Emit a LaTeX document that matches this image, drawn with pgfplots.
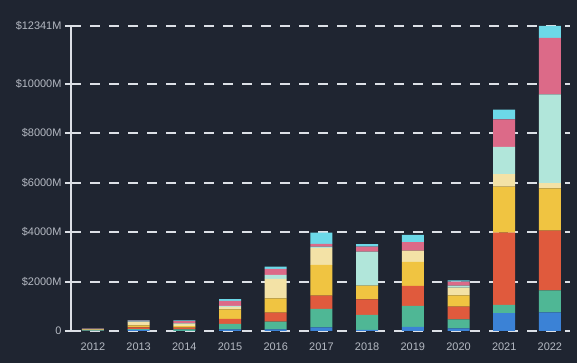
\documentclass[border=0pt]{standalone}
\usepackage{pgfplots}
\pgfplotsset{compat=1.18}
\usepackage{pgfplotstable}
\usepackage{fontspec}
\setmainfont{Liberation Sans}
\definecolor{bg}{HTML}{1F2531}
\definecolor{txt}{HTML}{B4B9C2}
\definecolor{gridc}{HTML}{DCE0E6}
\definecolor{cblue}{HTML}{3B82D6}
\definecolor{cgreen}{HTML}{4FB795}
\definecolor{cred}{HTML}{E05A3D}
\definecolor{cyellow}{HTML}{F0C441}
\definecolor{clyellow}{HTML}{F3E2A6}
\definecolor{cmint}{HTML}{B1E6DA}
\definecolor{cpink}{HTML}{DC6A88}
\definecolor{ccyan}{HTML}{6CD9E8}
\pgfplotstableread{
x blue green red yellow ly mint pink cyan
0 5 20 10 20 20 10 10 5
1 50 30 70 80 130 30 30 25
2 10 60 70 60 100 20 80 30
3 68 216 203 392 100 40 203 68
4 68 311 365 581 783 162 243 95
5 149 743 540 1242 675 68 108 459
6 41 608 635 554 0 1377 203 95
7 162 850 810 972 459 0 338 297
8 108 365 513 459 310 81 162 54
9 726 336 2919 1856 511 1103 1116 390
10 753 888 2421 1708 215 3591 2287 478
}\data
\begin{document}
\begin{tikzpicture}
\fill[bg] (0,0) rectangle (577bp,363bp);
\useasboundingbox (0,0) rectangle (577bp,363bp);
\begin{axis}[
  at={(71bp,32bp)}, anchor=south west,
  scale only axis, width=499bp, height=305bp,
  ybar stacked, bar width=22bp,
  xmin=-0.48, xmax=10.44, ymin=0, ymax=12341,
  scaled y ticks=false,
  axis lines*=left,
  x axis line style={draw=none},
  y axis line style={color=gridc, line width=2bp},
  xtick=data,
  xticklabels={2012,2013,2014,2015,2016,2017,2018,2019,2020,2021,2022},
  xtick style={draw=none},
  ytick={0,2000,4000,6000,8000,10000,12341},
  yticklabels={0,\$2000M,\$4000M,\$6000M,\$8000M,\$10000M,\$12341M},
  ytick style={color=gridc, line width=2bp},
  tick align=outside, major tick length=6bp,
  ymajorgrids,
  grid style={color=gridc, line width=2bp, dash pattern=on 10bp off 9bp},
  tick label style={font=\fontsize{11}{13}\selectfont, text=txt},
  xticklabel style={yshift=-2bp},
  every axis plot/.append style={draw=none},
]
\addplot[fill=cblue] table[x=x,y=blue]{\data};
\addplot[fill=cgreen] table[x=x,y=green]{\data};
\addplot[fill=cred] table[x=x,y=red]{\data};
\addplot[fill=cyellow] table[x=x,y=yellow]{\data};
\addplot[fill=clyellow] table[x=x,y=ly]{\data};
\addplot[fill=cmint] table[x=x,y=mint]{\data};
\addplot[fill=cpink] table[x=x,y=pink]{\data};
\addplot[fill=ccyan] table[x=x,y=cyan]{\data};
\end{axis}
\end{tikzpicture}
\end{document}
